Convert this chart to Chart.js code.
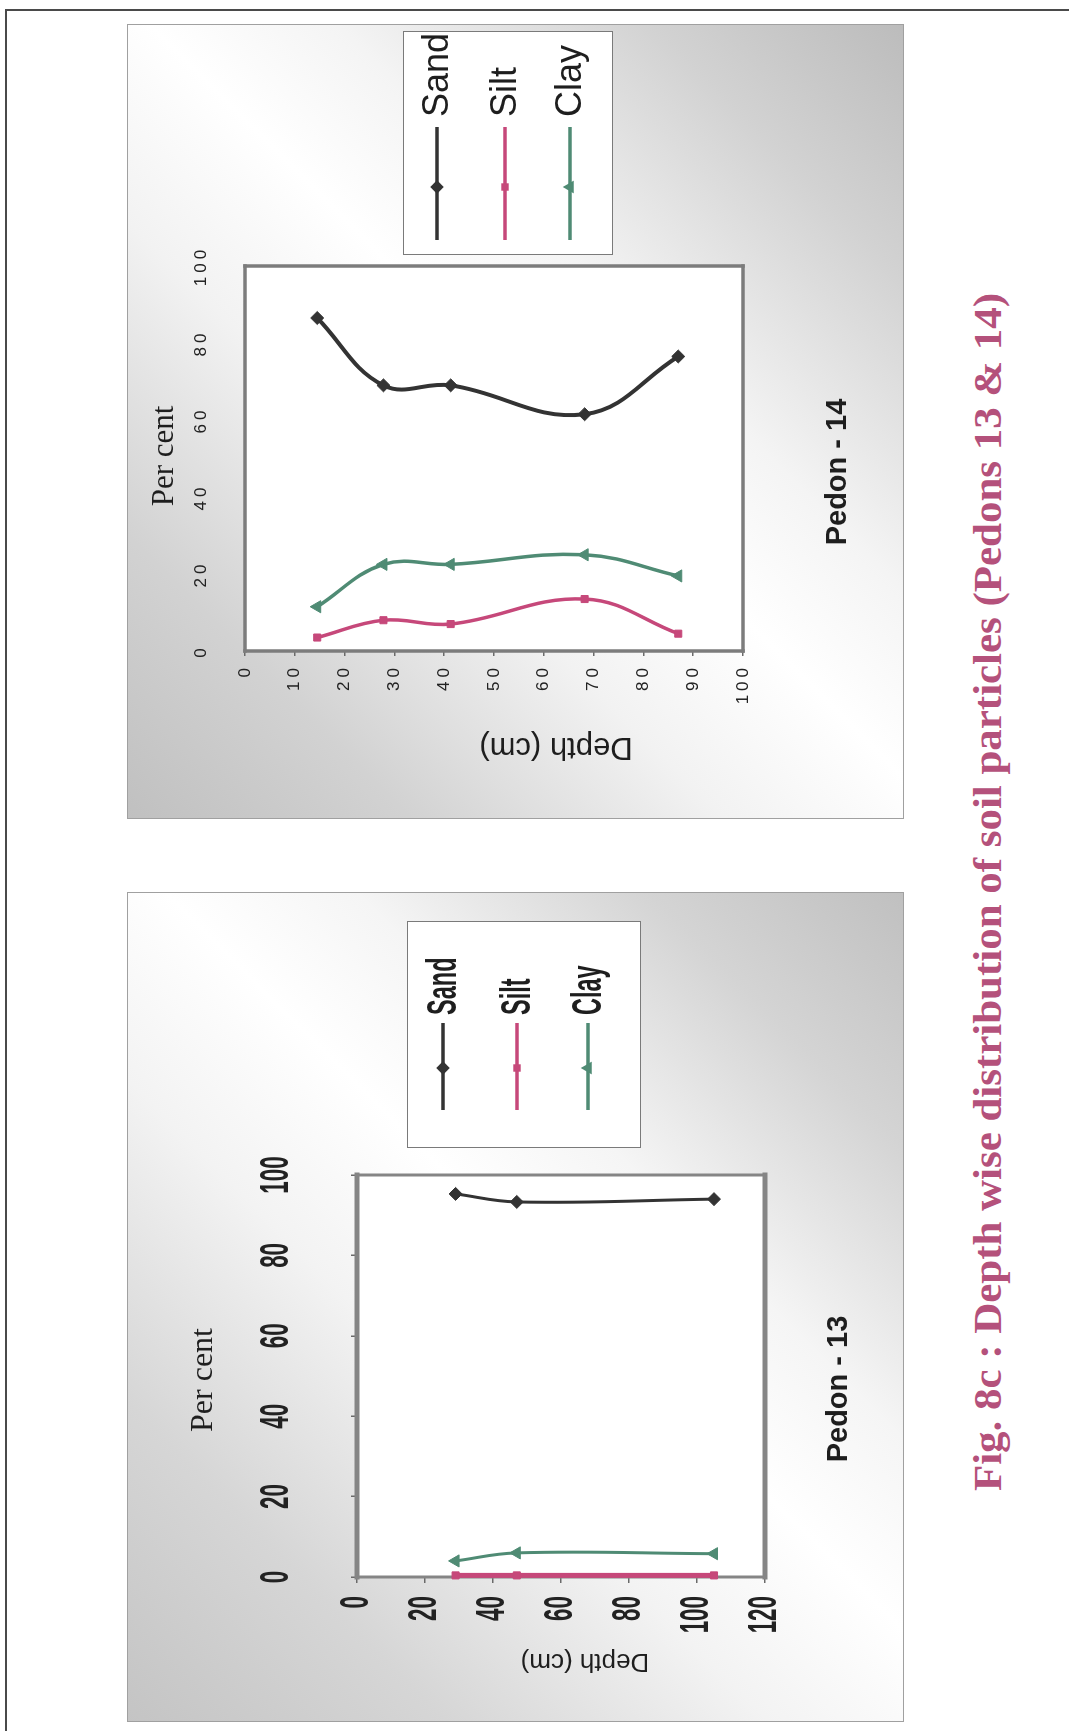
<!DOCTYPE html>
<html>
<head>
<meta charset="utf-8">
<title>Fig. 8c : Depth wise distribution of soil particles</title>
<script src="https://cdn.jsdelivr.net/npm/chart.js@4.4.1/dist/chart.umd.min.js"></script>
<style>
  html, body { margin: 0; padding: 0; width: 1069px; height: 1731px; overflow: hidden; background: #fff; }
  /* the scanned page is turned on its side: build it upright, then rotate */
  #page {
    position: absolute; left: 0; top: 0; width: 1731px; height: 1069px;
    transform-origin: 0 0; transform: translateY(1731px) rotate(-90deg);
    background: #fff;
  }
  .rule-h { position: absolute; left: 0; top: 5px; width: 1722px; border-top: 2px solid #4a4a4a; }
  .rule-v { position: absolute; left: 1720px; top: 5px; height: 1064px; border-left: 2px solid #4a4a4a; }
  .box { position: absolute; box-sizing: border-box; border: 1.5px solid #a0a0a0; }
  #box14 {
    left: 912px; top: 127px; width: 795px; height: 777px;
    background: linear-gradient(135deg, #c0c0c0 0%, #d2d2d2 18%, #f2f2f2 38%, #fff 52%, #f4f4f4 64%, #d2d2d2 84%, #bcbcbc 100%);
  }
  #box13 {
    left: 9px; top: 127px; width: 830px; height: 777px;
    background: linear-gradient(135deg, #c4c4c4 0%, #d6d6d6 20%, #f3f3f3 40%, #fff 54%, #f5f5f5 66%, #d4d4d4 84%, #c0c0c0 100%);
  }
  canvas { position: absolute; }
  #c14 { left: 912px; top: 127px; }
  #c13 { left: 9px; top: 127px; }
  #caption {
    position: absolute; left: 838.5px; top: 968px; white-space: nowrap;
    font: bold 40px 'Liberation Serif', 'Times New Roman', serif; line-height: 40px;
    color: #b4517b; transform-origin: 50% 50%;
  }
</style>
</head>
<body>
<div id="page">
  <div class="rule-h"></div>
  <div class="rule-v"></div>
  <div class="box" id="box14"></div>
  <div class="box" id="box13"></div>
  <canvas id="c14" width="795" height="777"></canvas>
  <canvas id="c13" width="830" height="777"></canvas>
  <div id="caption">Fig. 8c : Depth wise distribution of soil particles (Pedons 13 &amp; 14)</div>
</div>

<script>
// ─── DATA ──────────────────────────────────────────────
const seriesNames = ['Sand', 'Silt', 'Clay'];

// Pedon - 14
const depth14 = [14.5, 27.8, 41.3, 68.2, 87];
const sand14  = [86.5, 69, 69, 61.5, 76.5];
const silt14  = [3.5, 8, 7, 13.5, 4.5];
const clay14  = [11.5, 22.5, 22.5, 25, 19.5];

// Pedon - 13
const depth13 = [29, 47, 105];
const sand13  = [95.3, 93.3, 94];
const silt13  = [0.4, 0.4, 0.4];
const clay13  = [4, 6, 5.8];

const percentRange = [0, 100];
const depthRange14 = [0, 100];
const depthRange13 = [0, 120];

// ─── STYLE ─────────────────────────────────────────────
const COLORS = ['#333333', '#c6487a', '#4f8b74'];
const MARKERS = ['rectRot', 'rect', 'triangle'];
const RADII = [6.5, 5, 7];
const SANS = "'Liberation Sans', Arial, sans-serif";
const SERIF = "'Liberation Serif', 'Times New Roman', serif";

function series(i, depths, vals, width) {
  return {
    label: seriesNames[i],
    data: depths.map((d, k) => ({ x: vals[k], y: d })),
    borderColor: COLORS[i],
    backgroundColor: COLORS[i],
    pointStyle: MARKERS[i],
    pointRadius: RADII[i],
    pointBorderWidth: 1,
    borderWidth: width,
    tension: 0.4,
    clip: false
  };
}

function marker(ctx, style, x, y, r, color) {
  ctx.fillStyle = color;
  ctx.beginPath();
  if (style === 'rectRot') {
    ctx.moveTo(x, y - r); ctx.lineTo(x + r, y); ctx.lineTo(x, y + r); ctx.lineTo(x - r, y);
  } else if (style === 'rect') {
    const s = r * Math.SQRT1_2;
    ctx.rect(x - s, y - s, 2 * s, 2 * s);
  } else {
    ctx.moveTo(x, y - r); ctx.lineTo(x + r * 0.87, y + r * 0.5); ctx.lineTo(x - r * 0.87, y + r * 0.5);
  }
  ctx.closePath();
  ctx.fill();
}

// white plot area + frame; optional letter spacing / narrow squeeze for tick labels
const plotFrame = {
  id: 'plotFrame',
  beforeDraw(chart, args, o) {
    const ctx = chart.ctx, a = chart.chartArea;
    ctx.letterSpacing = o.letterSpacing || '0px';
    if (o.squeeze) {
      // the scan's tick digits are tall and narrow
      const plain = CanvasRenderingContext2D.prototype.fillText;
      ctx.fillText = function (t, x, y) {
        this.save();
        this.translate(x, y);
        this.scale(o.squeeze, 1);
        plain.call(this, t, 0, 0);
        this.restore();
      };
    }
    ctx.save();
    ctx.fillStyle = '#fff';
    ctx.fillRect(a.left, a.top, a.right - a.left, a.bottom - a.top);
    ctx.restore();
  },
  beforeDatasetsDraw(chart, args, o) {
    const ctx = chart.ctx, a = chart.chartArea;
    delete ctx.fillText;
    const [wt, wr, wb, wl] = o.widths;
    ctx.save();
    ctx.strokeStyle = o.color;
    ctx.lineCap = 'square';
    const side = (w, x0, y0, x1, y1) => { ctx.lineWidth = w; ctx.beginPath(); ctx.moveTo(x0, y0); ctx.lineTo(x1, y1); ctx.stroke(); };
    side(wt, a.left, a.top, a.right, a.top);
    side(wr, a.right, a.top, a.right, a.bottom);
    side(wb, a.left, a.bottom, a.right, a.bottom);
    side(wl, a.left, a.top, a.left, a.bottom);
    ctx.restore();
  }
};

// boxed legend, line + marker + name
const legendBox = {
  id: 'legendBox',
  afterDraw(chart, args, o) {
    const ctx = chart.ctx;
    ctx.save();
    ctx.letterSpacing = '0px';
    ctx.fillStyle = '#fff';
    ctx.fillRect(o.x, o.y, o.w, o.h);
    ctx.strokeStyle = '#7a7a7a';
    ctx.lineWidth = 1;
    ctx.strokeRect(o.x + 0.5, o.y + 0.5, o.w, o.h);
    chart.data.datasets.forEach((ds, i) => {
      const y = o.rows[i];
      ctx.strokeStyle = ds.borderColor;
      ctx.lineWidth = 3.5;
      ctx.beginPath(); ctx.moveTo(o.line[0], y); ctx.lineTo(o.line[1], y); ctx.stroke();
      marker(ctx, ds.pointStyle, o.mark, y, ds.pointRadius * 1.05, ds.borderColor);
      ctx.save();
      ctx.translate(o.textX, y + 1);
      ctx.scale(o.squeeze || 1, 1);
      ctx.fillStyle = '#1e1e1e';
      ctx.font = o.font;
      ctx.textAlign = 'left';
      ctx.textBaseline = 'middle';
      ctx.fillText(ds.label, 0, 0);
      ctx.restore();
    });
    ctx.restore();
  }
};

// free text: axis names and the pedon name
const textLabels = {
  id: 'textLabels',
  afterDraw(chart, args, o) {
    const ctx = chart.ctx;
    o.items.forEach(t => {
      ctx.save();
      ctx.letterSpacing = '0px';
      ctx.translate(t.x, t.y);
      if (t.rotate) ctx.rotate(t.rotate);
      ctx.font = t.font;
      ctx.fillStyle = '#1e1e1e';
      ctx.textAlign = 'center';
      ctx.textBaseline = 'middle';
      ctx.fillText(t.text, 0, 0);
      ctx.restore();
    });
  }
};

function baseOptions(p) {
  return {
    responsive: false,
    animation: false,
    devicePixelRatio: 1,
    indexAxis: 'y',
    layout: { padding: { left: 0, top: 0, right: p.padRight, bottom: p.padBottom } },
    plugins: {
      legend: { display: false },
      tooltip: { enabled: false },
      title: { display: false },
      plotFrame: p.frame,
      legendBox: p.legend,
      textLabels: { items: p.texts }
    },
    scales: {
      x: {
        type: 'linear', position: 'top',
        min: percentRange[0], max: percentRange[1],
        ticks: { stepSize: 20, padding: p.xPad, color: '#222', font: p.tickFont, maxRotation: 0 },
        grid: p.xGrid,
        border: { display: false },
        afterFit(s) { s.height = p.top; }
      },
      y: {
        type: 'linear', position: 'left', reverse: true,
        min: p.depthRange[0], max: p.depthRange[1],
        ticks: { stepSize: p.depthStep, padding: p.yPad, color: '#222', font: p.tickFont },
        grid: { drawOnChartArea: false, tickLength: p.tickLen, color: '#6a6a6a', lineWidth: 1.5 },
        border: { display: false },
        afterFit(s) { s.width = p.left; }
      }
    }
  };
}

// ─── PEDON - 14 ────────────────────────────────────────
new Chart(document.getElementById('c14'), {
  type: 'line',
  data: {
    datasets: [
      series(0, depth14, sand14, 4),
      series(1, depth14, silt14, 3.5),
      series(2, depth14, clay14, 3.5)
    ]
  },
  plugins: [plotFrame, legendBox, textLabels],
  options: baseOptions({
    left: 168, top: 118, padRight: 242, padBottom: 161,
    depthRange: depthRange14, depthStep: 10,
    tickFont: { family: SANS, size: 17 },
    xPad: 25, yPad: 8, tickLen: 5,
    xGrid: { display: false },
    frame: { color: '#7c7c7c', widths: [3.5, 3.5, 3.5, 3.5], letterSpacing: '4px' },
    legend: { x: 564, y: 276, w: 223, h: 209, rows: [310, 378, 443], line: [579, 692], mark: 632, textX: 702, font: '36px ' + SANS },
    texts: [
      { text: 'Per cent', x: 363, y: 38, font: '31px ' + SERIF },
      { text: 'Depth (cm)', x: 72, y: 429, rotate: -Math.PI / 2, font: '31px ' + SANS },
      { text: 'Pedon - 14', x: 347, y: 711, font: 'bold 29px ' + SANS }
    ]
  })
});

// ─── PEDON - 13 ────────────────────────────────────────
new Chart(document.getElementById('c13'), {
  type: 'line',
  data: {
    datasets: [
      series(0, depth13, sand13, 3),
      series(1, depth13, silt13, 5),
      series(2, depth13, clay13, 3)
    ]
  },
  plugins: [plotFrame, legendBox, textLabels],
  options: baseOptions({
    left: 145, top: 230, padRight: 283, padBottom: 139,
    depthRange: depthRange13, depthStep: 20,
    tickFont: { family: SANS, size: 40, weight: 'bold' },
    xPad: 50, yPad: 13, tickLen: 6,
    xGrid: { drawOnChartArea: false, tickLength: 6, color: '#6a6a6a', lineWidth: 1.5 },
    frame: { color: '#858585', widths: [5, 3, 5, 3], squeeze: 0.56 },
    legend: { x: 574, y: 280, w: 226, h: 233, rows: [316, 390, 461], line: [612, 699], mark: 654, textX: 707, font: 'bold 42px ' + SANS, squeeze: 0.56 },
    texts: [
      { text: 'Per cent', x: 342, y: 77, font: '32px ' + SERIF },
      { text: 'Depth (cm)', x: 61, y: 458, rotate: -Math.PI / 2, font: '26px ' + SANS },
      { text: 'Pedon - 13', x: 333, y: 712, font: 'bold 29px ' + SANS }
    ]
  })
});

// caption squeezed to the scanned width
const cap = document.getElementById('caption');
const k = 1199 / cap.offsetWidth;
cap.style.transform = 'translateX(-50%) scaleX(' + k.toFixed(3) + ')';
</script>
</body>
</html>
